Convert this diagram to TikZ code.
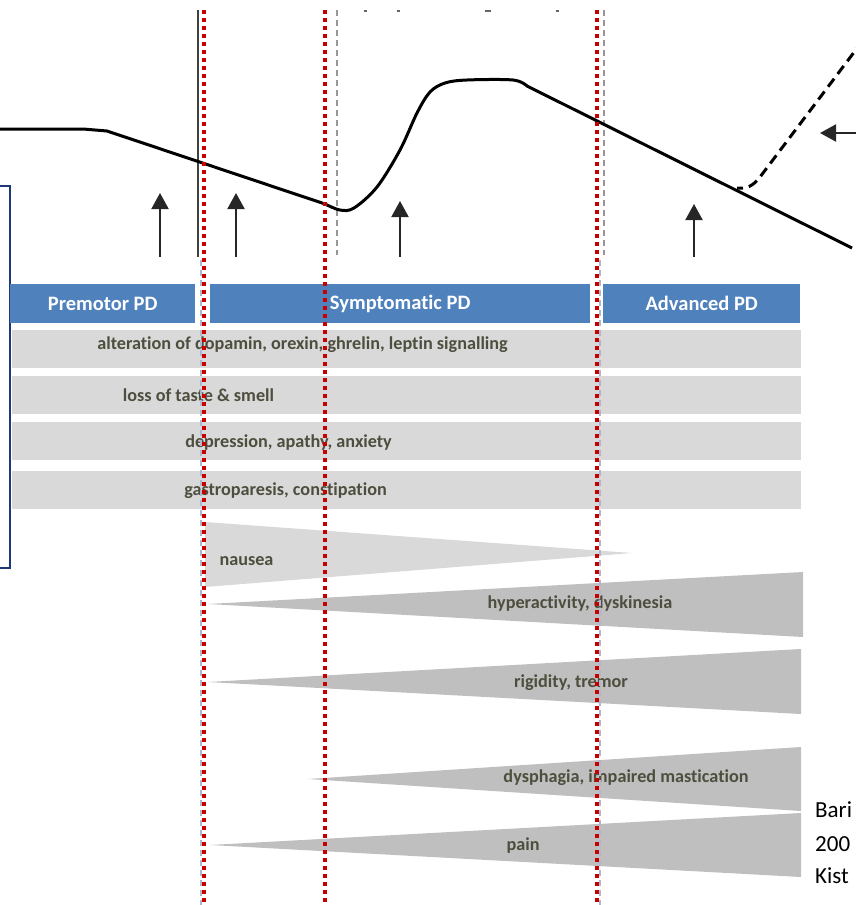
\documentclass[tikz,border=0pt]{standalone}
\usepackage{fontspec}
\setmainfont{Carlito}[Ligatures={NoCommon,NoRare}]
\usetikzlibrary{arrows.meta}
\definecolor{headblue}{RGB}{79,129,189}
\definecolor{bargray}{RGB}{217,217,217}
\definecolor{wedgedark}{RGB}{191,191,191}
\definecolor{wedgelight}{RGB}{217,217,217}
\definecolor{labelink}{RGB}{78,78,62}
\definecolor{dotred}{RGB}{200,0,0}
\definecolor{boxnavy}{RGB}{31,56,120}
\definecolor{guidegray}{RGB}{150,150,150}
\definecolor{guideblue}{RGB}{170,185,205}
\tikzset{
  phasehead/.style={fill=headblue, draw=none, inner sep=0pt, anchor=north west,
    text=white, font=\fontsize{20.5}{22}\selectfont\bfseries},
  symbar/.style={fill=bargray, draw=none, inner sep=0pt, anchor=north west,
    minimum width=789pt, minimum height=38pt},
  symtext/.style={inner sep=0pt, text=labelink, font=\fontsize{18.2}{20}\selectfont\bfseries},
  darkwedge/.style={fill=wedgedark, draw=none},
  lightwedge/.style={fill=wedgelight, draw=none},
  reddots/.style={draw=dotred, line width=3.5pt, dash pattern=on 3.5pt off 4.5pt},
  guidedash/.style={draw=guidegray, line width=1.2pt, dash pattern=on 6pt off 4pt},
  faintdash/.style={draw=guideblue, line width=1.2pt, dash pattern=on 6pt off 4pt},
  upar/.style={draw=black!85, line width=2pt, -{Triangle[length=16pt,width=17pt]}},
  course/.style={draw=black, line width=3pt, line join=round},
  reference/.style={inner sep=0pt, anchor=west, font=\fontsize{23}{25}\selectfont}
}
\begin{document}
\begin{tikzpicture}[x=1pt, y=-1pt]
\useasboundingbox (0,0) rectangle (856,905);

% open frame on the left edge
\draw[draw=boxnavy, line width=2pt] (-5,186) -- (10,186) -- (10,568) -- (-5,568);

% symptom bars
\node[symbar] (bar1) at (12,330) {};
\node[symbar] (bar2) at (12,376) {};
\node[symbar] (bar3) at (12,422) {};
\node[symbar] (bar4) at (12,471) {};
\node[symtext] (t1) at (302.5,345) {alteration of dopamin,\ orexin,\ ghrelin,\ leptin signalling};
\node[symtext] (t2) at (198.5,395) {loss of taste \& smell};
\node[symtext] (t3) at (288.5,443) {depression,\ apathy,\ anxiety};
\node[symtext] (t4) at (285.5,491) {gastroparesis,\ constipation};

% wedges
\fill[lightwedge] (205,522) -- (632,553) -- (205,587) -- cycle;
\fill[darkwedge] (208,604) -- (803,572) -- (803,637) -- cycle;
\fill[darkwedge] (208,682) -- (801,649) -- (801,714) -- cycle;
\fill[darkwedge] (308,779) -- (801,747) -- (801,811) -- cycle;
\fill[darkwedge] (210,845) -- (801,813) -- (801,877) -- cycle;
\node[symtext] (nausea) at (246.5,561) {nausea};
\node[symtext] (hyper) at (580,604) {hyperactivity,\ dyskinesia};
\node[symtext] (rigid) at (571,683) {rigidity,\ tremor};
\node[symtext] (dysph) at (626,778) {dysphagia,\ impaired mastication};
\node[symtext] (pain) at (523,846) {pain};

% phase headers
\node[phasehead, minimum width=185pt, minimum height=39pt] (premotor) at (10,284) {Premotor PD};
\node[phasehead, minimum width=380pt, minimum height=39pt] (sympto) at (210,284) {Symptomatic PD};
\node[phasehead, minimum width=197pt, minimum height=39pt] (advanced) at (603,284) {Advanced PD};

% reference lines
\node[reference] (ref1) at (815,810) {Bari};
\node[reference] (ref2) at (815,844) {200};
\node[reference] (ref3) at (815,876) {Kist};

% guides in the upper panel
\draw[draw=black!75, line width=2pt] (198,10) -- (198,257);
\draw[guidedash] (337,10) -- (337,255);
\draw[guidedash] (604,10) -- (604,255);
\draw[faintdash] (201,260) -- (201,905);
\draw[faintdash] (600,260) -- (600,905);

% remnants of the cut-off caption
\foreach \mx in {365,398,557}
  \draw[draw=black!60, line width=1.5pt] (\mx-1.5,11) -- (\mx+1.5,11);
\draw[draw=black!60, line width=1.5pt] (485,11) -- (491,11);

% disease course
\draw[course] (0,129) -- (83,129) -- (107,131) -- (325,204)
  plot[smooth, tension=0.55] coordinates {(325,204) (340,210) (354,208) (377,187) (400,150) (417,113) (430,92) (445,83) (467,80) (513,80) (527,86)}
  -- (852,248);
\draw[draw=black, line width=3pt, dash pattern=on 10pt off 6pt, dash phase=4pt]
  (737,188) .. controls (747,189) and (753,186) .. (760,177) -- (858,47);

% time-point arrows
\coordinate (a1s) at (160,257); \coordinate (a1e) at (160,193);
\coordinate (a2s) at (236,257); \coordinate (a2e) at (236,193);
\coordinate (a3s) at (400,257); \coordinate (a3e) at (400,201);
\coordinate (a4s) at (694,257); \coordinate (a4e) at (694,204);
\draw[upar] (a1s) -- (a1e);
\draw[upar] (a2s) -- (a2e);
\draw[upar] (a3s) -- (a3e);
\draw[upar] (a4s) -- (a4e);
\coordinate (a5s) at (858,133); \coordinate (a5e) at (820,133);
\draw[upar] (a5s) -- (a5e);

% red dotted phase borders
\draw[reddots] (204,10) -- (204,905);
\draw[reddots] (325,10) -- (325,905);
\draw[reddots] (597,10) -- (597,905);
\end{tikzpicture}
\end{document}
